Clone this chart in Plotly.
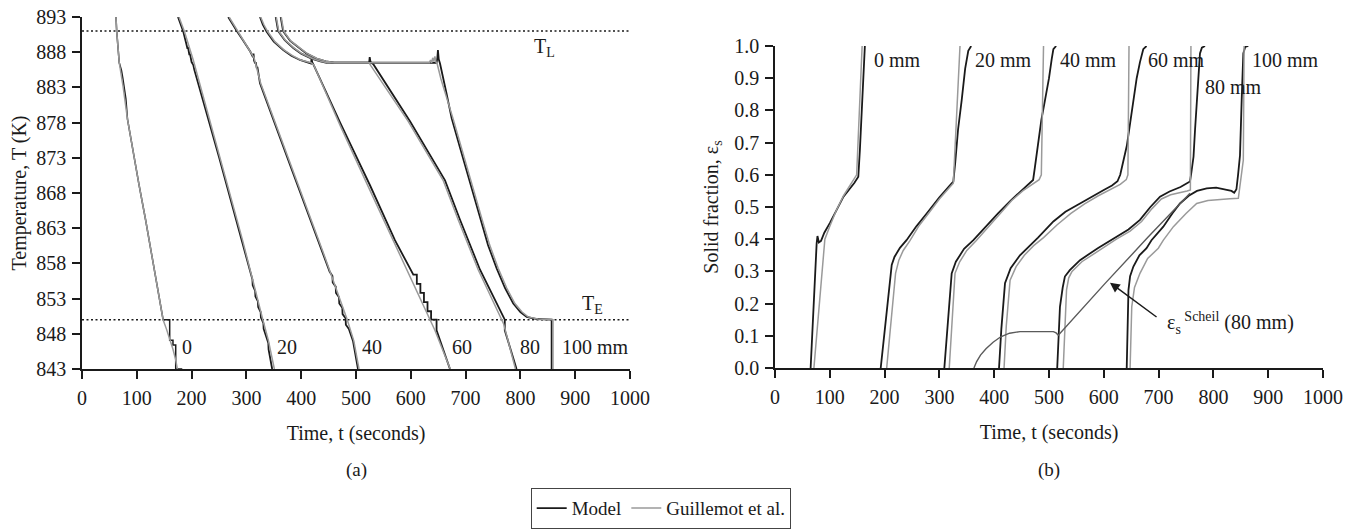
import plotly.graph_objects as go

# ---------------- data: panel (a) temperature ----------------
TL = 891.0
TE = 850.0

t_m0 = [62, 63.3, 68, 72, 74.5, 77.5, 80, 83, 92.5, 104, 116, 126, 138, 148, 160, 160, 166, 166, 171, 171, 183]
T_m0 = [893, 891, 886.5, 885.4, 884.3, 882.6, 881.4, 878.5, 874.1, 869.2, 864.2, 859.9, 854.5, 850, 850, 847.1, 847.1, 846.4, 846.4, 843, 843]
t_g0 = [62, 63.3, 68, 75, 83, 92.5, 104, 116, 126, 138, 148, 154, 160, 166, 171, 174]
T_g0 = [893, 891, 886.5, 883.1, 878.5, 874.1, 869.2, 864.2, 859.9, 854.5, 850, 848.7, 847.3, 845.8, 844.3, 843]

t_m20 = [175.2, 180, 184.9, 190, 192.5, 193.5, 196, 197, 200, 203, 205, 250, 291, 308, 311, 311.5, 316, 316.5, 321, 321.5, 326, 326.5, 331, 331.5, 337, 340, 340.5, 347]
T_m20 = [893, 891.9, 890.9, 889.3, 888.5, 888.7, 887.6, 887.8, 886.6, 886.2, 885.5, 873.1, 861.3, 856.2, 855.7, 854.9, 854.1, 853.3, 852.6, 851.8, 851.1, 850.3, 849.5, 848.7, 847.5, 846.7, 845.8, 843]
t_g20 = [177, 187, 203, 250, 293, 330, 340, 351]
T_g20 = [893, 890.9, 886.9, 873.5, 861.3, 850, 847.1, 843]

t_m40 = [266.8, 275, 283.4, 292, 300, 307, 312, 313, 314, 316, 317, 319, 320, 322, 324.8, 380, 440, 452, 457, 457.5, 463, 463.5, 469, 469.5, 475, 475.5, 481, 481.5, 487, 494.5, 503.6]
T_m40 = [893, 891.9, 890.9, 889.9, 889, 888.1, 887.3, 887.8, 886.8, 886.4, 886.6, 885.7, 885.9, 884.8, 883.6, 871.9, 859.3, 856.8, 856.2, 855.3, 854.7, 853.8, 853.2, 852.3, 851.7, 850.8, 850.2, 849.3, 848.7, 847, 843]
t_g40 = [268.5, 285, 301, 314, 326, 380, 440, 484, 496, 505.5]
T_g40 = [893, 890.9, 888.9, 887.2, 883.6, 872.2, 859.6, 850, 847, 843]

t_m60 = [324.8, 330, 337, 350, 367.3, 382, 397.8, 410, 418, 419, 420, 422, 471, 525.5, 571, 604.6, 611, 611, 617.5, 617.5, 624, 624, 630.5, 630.5, 637, 637, 647, 647, 671.5]
T_m60 = [893, 891.9, 890.9, 889.5, 888.3, 887.5, 886.9, 886.6, 886.4, 887.2, 886.6, 886.3, 878.0, 869.1, 861.3, 856.4, 856.4, 855.1, 855.1, 853.8, 853.8, 852.5, 852.5, 851.2, 851.2, 850, 850, 848.5, 843]
t_g60 = [326, 332, 339, 352, 369, 384, 399, 412, 418, 423, 471, 523, 569, 644, 672]
T_g60 = [893, 891.9, 890.9, 889.5, 888.3, 887.5, 886.9, 886.6, 886.5, 886.2, 877.6, 868.8, 861.0, 848.5, 843]

t_m80 = [353.5, 358, 370, 385.6, 400, 419, 435, 446.5, 470, 524, 525, 526.5, 531.6, 598.5, 662.4, 689.8, 726.3, 768.8, 771.5, 771.5, 793]
T_m80 = [893, 891, 889.7, 888.6, 887.8, 887.1, 886.7, 886.5, 886.5, 886.5, 887.3, 886.6, 886.3, 878.2, 869.8, 864.2, 857.1, 850.4, 850, 848.5, 843]
t_g80 = [354.5, 359, 371, 386.6, 401, 420, 436, 447.5, 470, 524, 527, 595, 659, 686.5, 723, 766, 769.5, 791]
T_g80 = [893, 891, 889.7, 888.6, 887.8, 887.1, 886.7, 886.5, 886.5, 886.5, 886.1, 878.2, 869.8, 864.2, 857.1, 850.2, 849.4, 843]

t_m100 = [362.6, 367, 380, 396, 410, 428, 445, 460, 480, 647, 648.5, 649.5, 651, 653.3, 665, 674.6, 690, 708, 726.3, 741, 756.7, 772, 787, 800, 811.5, 830, 857, 857]
T_m100 = [893, 891, 889.6, 888.6, 887.8, 887.1, 886.7, 886.5, 886.5, 886.5, 887.2, 888.3, 887.0, 886.4, 882.2, 878.6, 874.4, 869.4, 864.4, 860.6, 857.3, 854.5, 852.3, 851.1, 850.4, 850.1, 850, 843]
t_g100 = [363.6, 368, 381, 397, 411, 429, 446, 461, 480, 634, 636, 638, 640, 642, 644, 646, 648, 655, 677, 693, 711, 729.5, 744, 759.5, 775, 790, 803, 814, 832, 859.5, 859.5]
T_g100 = [893, 891, 889.6, 888.6, 887.8, 887.1, 886.7, 886.5, 886.5, 886.5, 886.9, 886.5, 887.2, 886.7, 887.4, 886.6, 886.4, 884.2, 878.6, 874.4, 869.4, 864.4, 860.6, 857.3, 854.5, 852.3, 851.1, 850.4, 850.1, 850, 843]

# ---------------- data: panel (b) solid fraction ----------------
t_m0r = [65, 70, 76, 77.5, 80, 84, 90, 100, 125, 145, 152, 155, 158, 161, 163, 164]
e_m0r = [0, 0.19, 0.387, 0.41, 0.39, 0.395, 0.42, 0.45, 0.532, 0.575, 0.594, 0.68, 0.80, 0.93, 0.98, 1.0]
t_g0r = [71, 76, 81, 86, 91, 100, 112, 125, 140, 149, 159]
e_g0r = [0, 0.1, 0.2, 0.3, 0.4, 0.44, 0.49, 0.535, 0.575, 0.6, 1.0]

t_m20r = [192.9, 203, 213, 218, 228, 240, 258, 276.8, 300, 318, 325.4, 329, 334, 340.7, 347, 352.7, 358]
e_m20r = [0, 0.16, 0.32, 0.345, 0.373, 0.397, 0.44, 0.48, 0.53, 0.565, 0.579, 0.64, 0.74, 0.832, 0.93, 0.985, 1.0]
t_g20r = [203.8, 212, 220, 226, 234, 246, 262, 280, 300, 318, 325.4, 337.6]
e_g20r = [0, 0.15, 0.294, 0.335, 0.365, 0.395, 0.44, 0.48, 0.525, 0.56, 0.574, 1.0]

t_m40r = [309, 316, 322.4, 330, 345, 362, 385, 407, 430, 450, 465, 471, 474, 480, 486, 492.7, 500, 505, 508, 513]
e_m40r = [0, 0.15, 0.294, 0.33, 0.37, 0.397, 0.44, 0.48, 0.52, 0.55, 0.572, 0.584, 0.62, 0.7, 0.77, 0.832, 0.9, 0.96, 0.99, 1.0]
t_g40r = [318, 323, 328.5, 337, 350, 367, 390, 410, 432, 452, 470, 482, 486, 490]
e_g40r = [0, 0.15, 0.294, 0.33, 0.365, 0.395, 0.44, 0.478, 0.52, 0.55, 0.57, 0.585, 0.6, 1.0]

t_m60r = [408.8, 413, 419.7, 430, 447, 465, 480, 508, 530, 556.6, 580, 600, 615, 625, 630, 636, 642, 648, 654, 660, 666, 672, 678]
e_m60r = [0, 0.12, 0.263, 0.31, 0.35, 0.38, 0.405, 0.455, 0.485, 0.511, 0.535, 0.553, 0.567, 0.58, 0.6, 0.646, 0.69, 0.76, 0.832, 0.9, 0.95, 0.99, 1.0]
t_g60r = [418, 422, 429, 440, 455, 472, 490, 515, 540, 565, 590, 612, 630, 641, 644, 646]
e_g60r = [0, 0.13, 0.273, 0.315, 0.35, 0.38, 0.405, 0.445, 0.48, 0.51, 0.535, 0.553, 0.57, 0.585, 0.6, 1.0]

t_m80r = [515, 517.5, 520, 525, 529, 538, 556.6, 589, 620, 645, 666, 685, 702.6, 720, 740, 757.3, 760, 763.7, 766.5, 769.5, 772.5, 775.5, 779, 784.7]
e_m80r = [0, 0.1, 0.19, 0.25, 0.284, 0.304, 0.335, 0.372, 0.405, 0.43, 0.46, 0.5, 0.532, 0.548, 0.562, 0.579, 0.61, 0.656, 0.74, 0.832, 0.91, 0.977, 0.995, 1.0]
t_g80r = [526, 529, 532, 536, 542, 560, 592, 623, 648, 669, 688, 705, 722, 742, 752, 758, 759]
e_g80r = [0, 0.12, 0.243, 0.28, 0.3, 0.33, 0.367, 0.4, 0.425, 0.455, 0.495, 0.525, 0.538, 0.545, 0.55, 0.553, 1.0]

t_m100r = [641.8, 643.5, 645, 648, 654, 665, 678, 687, 708.6, 725, 739, 755, 770, 787.8, 805, 824.3, 833, 838, 842, 845, 848.5, 851.6, 854.6, 858, 863.7]
e_m100r = [0, 0.15, 0.242, 0.285, 0.315, 0.35, 0.372, 0.397, 0.439, 0.48, 0.511, 0.535, 0.55, 0.558, 0.56, 0.553, 0.55, 0.544, 0.555, 0.6, 0.66, 0.832, 0.977, 0.997, 1.0]
t_g100r = [648, 651, 656, 666, 680, 699.5, 708.7, 727, 750, 769.5, 790, 812, 830, 845.5, 848, 854.6, 856]
e_g100r = [0, 0.19, 0.25, 0.294, 0.34, 0.372, 0.397, 0.439, 0.48, 0.511, 0.52, 0.524, 0.526, 0.527, 0.56, 0.646, 1.0]

t_scheil = [363, 368, 375, 385, 398, 412, 428, 447, 508, 513, 517, 602, 680, 757.3]
e_scheil = [0, 0.02, 0.04, 0.06, 0.08, 0.097, 0.108, 0.113, 0.113, 0.109, 0.102, 0.262, 0.405, 0.543]

pos_labels_a = ["0", "20", "40", "60", "80", "100 mm"]
pos_x_a = [178.8, 352, 507, 671.5, 795.6, 872.3]
pos_labels_b = ["0 mm", "20 mm", "40 mm", "60 mm", "80 mm", "100 mm"]
pos_x_b = [176.5, 362, 517, 677, 780.5, 867]
pos_y_b = [0.958, 0.958, 0.958, 0.958, 0.873, 0.958]

x_ticks = list(range(0, 1001, 100))
T_ticks = list(range(843, 894, 5))
e_ticks = [i / 10 for i in range(0, 11)]

# ---------------- styling ----------------
FONT = "Liberation Serif"
INK = "#1a1a1a"
MODEL_C = "#1a1a1a"
GUIL_C = "#9a9a9a"
SCHEIL_C = "#5a5a5a"

fig = go.Figure()

def add(x, y, color, width, name, xa, ya, show=False, group=None, dash=None):
    fig.add_trace(go.Scatter(x=x, y=y, mode="lines", name=name,
                             line=dict(color=color, width=width, dash=dash),
                             xaxis=xa, yaxis=ya, showlegend=show,
                             legendgroup=group, hoverinfo="skip"))

# reference lines (liquidus / eutectic)
add([0, 1000], [TL, TL], INK, 1.5, "T_L", "x", "y", dash="2px,2.5px")
add([0, 1000], [TE, TE], INK, 1.5, "T_E", "x", "y", dash="2px,2.5px")

model_a = [(t_m0, T_m0), (t_m20, T_m20), (t_m40, T_m40), (t_m60, T_m60), (t_m80, T_m80), (t_m100, T_m100)]
guil_a = [(t_g0, T_g0), (t_g20, T_g20), (t_g40, T_g40), (t_g60, T_g60), (t_g80, T_g80), (t_g100, T_g100)]
model_b = [(t_m0r, e_m0r), (t_m20r, e_m20r), (t_m40r, e_m40r), (t_m60r, e_m60r), (t_m80r, e_m80r), (t_m100r, e_m100r)]
guil_b = [(t_g0r, e_g0r), (t_g20r, e_g20r), (t_g40r, e_g40r), (t_g60r, e_g60r), (t_g80r, e_g80r), (t_g100r, e_g100r)]

for i, (x, y) in enumerate(model_a):
    add(x, y, MODEL_C, 1.5 if i == 0 else 1.8, "Model", "x", "y", show=(i == 1), group="m")
for x, y in model_b:
    add(x, y, MODEL_C, 1.8, "Model", "x2", "y2", group="m")
for i, (x, y) in enumerate(guil_a):
    add(x, y, GUIL_C, 1.5, "Guillemot et al.", "x", "y", show=(i == 1), group="g")
for x, y in guil_b:
    add(x, y, GUIL_C, 1.5, "Guillemot et al.", "x2", "y2", group="g")
add(t_scheil, e_scheil, SCHEIL_C, 1.4, "Scheil (80 mm)", "x2", "y2")

# ---------------- layout ----------------
# page body has an 8px margin: the figure is drawn 8px in from the top-left
OFF = 8
W, H = 1360 - OFF, 532 - OFF
L, R, T, B = 82 - OFF, 37, 17 - OFF, 163
pw, ph = W - L - R, H - T - B

def px_x(px):          # reference screen x -> paper x
    return (px - 82) / pw

def px_y(py):          # reference screen y -> paper y
    return (369 - py) / ph

tickfont = dict(family=FONT, size=20, color=INK)
axis_common = dict(showgrid=False, zeroline=False, showline=True, linecolor=INK,
                   linewidth=1.5, ticks="outside", ticklen=8, tickwidth=1.5,
                   tickcolor=INK, tickfont=tickfont, mirror=False,
                   ticklabeloverflow="allow")
title_font = dict(family=FONT, size=20, color=INK)

fig.update_layout(
    width=W, height=H,
    margin=dict(l=L, r=R, t=T, b=B, autoexpand=False),
    paper_bgcolor="white", plot_bgcolor="white",
    font=dict(family=FONT, size=20, color=INK),
    xaxis=dict(domain=[0, px_x(630)], range=[0, 1000], tickvals=x_ticks,
               anchor="y", ticklabelstandoff=2,
               title=dict(text="Time, t (seconds)", font=title_font, standoff=18),
               **axis_common),
    yaxis=dict(domain=[0, 1], range=[843, 893], tickvals=T_ticks, anchor="x",
               ticklabelstandoff=2,
               title=dict(text="Temperature, T (K)", font=title_font, standoff=4),
               **axis_common),
    xaxis2=dict(domain=[px_x(775), 1], range=[0, 1000], tickvals=x_ticks,
                anchor="y2", ticklabelstandoff=2,
                title=dict(text="Time, t (seconds)", font=title_font, standoff=18),
                **axis_common),
    yaxis2=dict(domain=[px_y(368), px_y(46)], range=[0, 1], tickvals=e_ticks,
                tickformat=".1f", anchor="x2", ticklabelstandoff=2,
                title=dict(text="Solid fraction, ε<sub>s</sub>", font=title_font, standoff=10),
                **axis_common),
    legend=dict(orientation="h", x=px_x(661), xanchor="center", y=px_y(488), yanchor="top",
                bordercolor="#444", borderwidth=1.2, bgcolor="white",
                font=dict(family=FONT, size=19, color=INK), itemwidth=30,
                traceorder="normal"),
    showlegend=True,
)

ann = []
for lab, x in zip(pos_labels_a, pos_x_a):
    ann.append(dict(x=x, y=846.1, xref="x", yref="y", text=lab, showarrow=False,
                    xanchor="left", yanchor="middle", font=dict(family=FONT, size=20, color=INK)))
for lab, x, y in zip(pos_labels_b, pos_x_b, pos_y_b):
    ann.append(dict(x=x, y=y, xref="x2", yref="y2", text=lab, showarrow=False,
                    xanchor="left", yanchor="middle", font=dict(family=FONT, size=20, color=INK)))
ann.append(dict(x=821, y=888.7, xref="x", yref="y", text="T<sub>L</sub>", showarrow=False,
                xanchor="left", yanchor="middle", font=dict(family=FONT, size=20, color=INK)))
ann.append(dict(x=909, y=852.2, xref="x", yref="y", text="T<sub>E</sub>", showarrow=False,
                xanchor="left", yanchor="middle", font=dict(family=FONT, size=20, color=INK)))
ann.append(dict(x=500, y=px_y(470), xref="x", yref="paper", text="(a)", showarrow=False,
                xanchor="center", yanchor="middle", font=dict(family=FONT, size=19, color=INK)))
ann.append(dict(x=500, y=px_y(470), xref="x2", yref="paper", text="(b)", showarrow=False,
                xanchor="center", yanchor="middle", font=dict(family=FONT, size=19, color=INK)))
# arrow + label for the Scheil curve
ann.append(dict(x=611.3, y=0.265, xref="x2", yref="y2", ax=699, ay=0.155, axref="x2", ayref="y2",
                text="", showarrow=True, arrowhead=2, arrowsize=1.3, arrowwidth=1.5, arrowcolor=INK))
ann.append(dict(x=712, y=0.14, xref="x2", yref="y2",
                text="ε<sub>s</sub><sup> Scheil</sup> (80 mm)", showarrow=False,
                xanchor="left", yanchor="middle", font=dict(family=FONT, size=20, color=INK)))
fig.update_layout(annotations=ann)

fig.write_html("out.html")
